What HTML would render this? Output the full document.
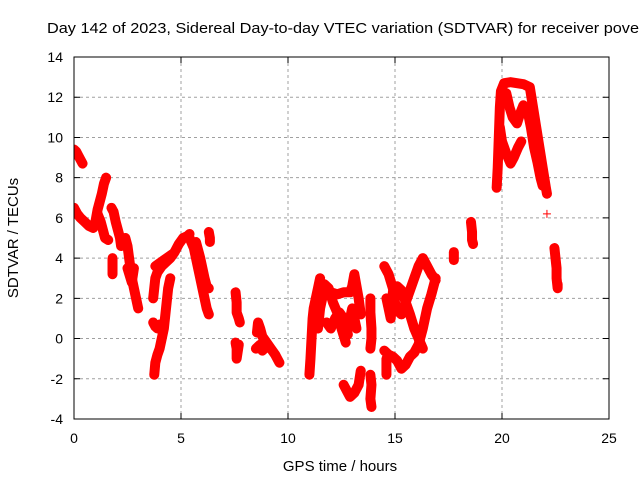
<!DOCTYPE html>
<html><head><meta charset="utf-8"><style>
body{margin:0;background:#fff;}
svg{display:block;font-family:"Liberation Sans",Arial,sans-serif;}
</style></head><body>
<svg id="chart" width="640" height="480" viewBox="0 0 640 480">
<text x="47" y="33" font-size="15" textLength="592" lengthAdjust="spacingAndGlyphs" fill="#000">Day 142 of 2023, Sidereal Day-to-day VTEC variation (SDTVAR) for receiver pove</text>
<text x="340" y="471" font-size="15" text-anchor="middle">GPS time / hours</text>
<text transform="translate(18,238) rotate(-90)" font-size="15" text-anchor="middle">SDTVAR / TECUs</text>
<g id="grid"></g><g id="ticks"></g>
<defs><clipPath id="pc"><rect x="74" y="57" width="535" height="362"/></clipPath></defs>
<g id="marks" clip-path="url(#pc)"></g>
<rect x="74" y="57" width="535" height="362" fill="none" stroke="#000" stroke-width="1"/>
</svg>
<script>
const xTicks=[0,5,10,15,20,25];
const yTicks=[-4,-2,0,2,4,6,8,10,12,14];
const trackA=[[0,9.4],[0.1,9.3],[0.2,9.1],[0.3,8.9],[0.4,8.7]];
const trackB=[[0,6.5],[0.15,6.2],[0.3,6.0],[0.5,5.8],[0.7,5.6],[0.9,5.5],[1.0,5.8],[1.1,6.4],[1.2,6.8],[1.3,7.2],[1.4,7.7],[1.5,8.0]];
const trackC=[[1.1,6.2],[1.25,5.8],[1.35,5.4],[1.45,5.0],[1.6,4.9]];
const trackD=[[1.75,6.5],[1.85,6.3],[1.95,5.8],[2.05,5.4],[2.15,5.0],[2.2,4.6]];
const trackD2=[[1.8,4.0],[1.8,3.5],[1.8,3.2]];
const trackE=[[2.4,5.0],[2.5,4.6],[2.6,3.8],[2.7,3.0],[2.8,2.5],[2.9,2.0],[3.0,1.5]];
const trackE2=[[2.5,3.5],[2.7,2.8],[2.8,3.5]];
const trackF=[[3.75,-1.8],[3.8,-1.2],[3.9,-0.8],[4.0,-0.5],[4.1,0],[4.2,0.5],[4.3,1.5],[4.4,2.5],[4.5,3.0]];
const trackG=[[3.7,0.8],[3.8,0.6],[3.9,0.5],[4.0,0.7]];
const trackH=[[3.7,2.0],[3.8,3.0],[3.9,3.3],[4.1,3.6],[4.3,3.8],[4.5,4.0],[4.7,4.3],[4.9,4.7],[5.1,5.0],[5.3,5.1],[5.4,5.2]];
const trackH2=[[3.8,3.6],[4.2,3.9],[4.6,4.2]];
const trackI=[[5.4,5.0],[5.6,4.5],[5.7,4.0],[5.8,3.5],[5.9,3.0],[6.0,2.5],[6.1,2.0],[6.2,1.5],[6.3,1.2]];
const trackI2=[[5.7,4.8],[5.9,4.0],[6.0,3.5],[6.1,3.0],[6.2,2.6],[6.3,2.5]];
const trackJ=[[6.3,5.3],[6.35,5.0],[6.35,4.8]];
const trackK=[[7.55,2.3],[7.6,1.8],[7.6,1.3],[7.7,1.0],[7.75,0.8]];
const trackK2=[[7.55,-0.2],[7.6,-0.5],[7.6,-1.0],[7.7,-0.3]];
const trackL=[[8.55,0.3],[8.6,0.8],[8.7,0.5],[8.8,0.1],[9.0,-0.2],[9.2,-0.5],[9.4,-0.8],[9.5,-1.0],[9.6,-1.2]];
const trackL2=[[8.5,-0.5],[8.7,-0.3],[8.8,-0.6],[9.0,-0.4]];
const trackM=[[11.0,-1.8],[11.05,-1.0],[11.1,0],[11.15,1.0],[11.2,1.5],[11.3,2.0],[11.4,2.5],[11.5,3.0]];
const trackM2=[[11.3,1.0],[11.4,0.5],[11.5,1.5],[11.6,2.0],[11.7,2.7],[11.9,2.5],[12.1,1.8],[12.3,1.3],[12.5,0.5],[12.7,-0.2]];
const trackN=[[11.8,0.8],[12.0,0.5],[12.2,1.0],[12.4,1.3],[12.6,1.0],[12.8,0.2]];
const trackN2=[[12.0,2.3],[12.3,2.2],[12.6,2.3],[12.9,2.3],[13.0,2.6],[13.1,3.2],[13.2,2.6],[13.3,2.0],[13.4,1.2]];
const trackN3=[[12.8,0.5],[12.9,1.0],[13.0,1.5],[13.1,1.0],[13.2,0.5]];
const trackO=[[12.6,-2.3],[12.8,-2.7],[12.9,-2.9],[13.1,-2.7],[13.3,-2.3],[13.4,-1.6]];
const trackP=[[13.85,2.0],[13.85,1.3],[13.9,0.5],[13.9,0],[13.85,-0.5]];
const trackP2=[[13.85,-1.8],[13.9,-2.3],[13.85,-3.0],[13.9,-3.4]];
const trackQ=[[14.5,3.6],[14.7,3.2],[14.9,2.5],[15.0,1.8],[15.1,1.4],[15.3,1.2],[15.5,1.8],[15.7,2.4],[15.9,3.0],[16.1,3.6],[16.3,4.0],[16.5,3.6],[16.7,3.2],[16.9,2.9]];
const trackQ2=[[14.6,2.0],[14.7,1.5],[14.8,1.0],[14.9,2.3],[15.1,2.6],[15.3,2.4],[15.5,1.8],[15.7,1.2],[15.9,0.5],[16.1,0],[16.3,-0.5]];
const trackQ3=[[14.5,-0.6],[14.7,-0.8],[14.9,-0.9],[15.1,-1.1],[15.3,-1.5],[15.5,-1.3],[15.7,-0.9],[15.9,-0.7],[16.1,-0.3],[16.3,0.5],[16.5,1.5],[16.7,2.2],[16.9,3.0]];
const trackQ4=[[14.6,-1.0],[14.6,-1.8]];
const trackR=[[17.75,4.3],[17.75,3.9]];
const trackS=[[18.55,5.8],[18.6,5.3],[18.6,4.9],[18.65,4.7]];
const trackT1=[[19.75,7.5],[19.8,8.5],[19.85,10.0],[19.9,11.5],[19.95,12.3],[20.1,12.7],[20.4,12.75],[20.7,12.7],[21.0,12.65],[21.3,12.5],[21.45,11.5],[21.6,10.5],[21.75,9.5],[21.9,8.5],[22.05,7.5],[22.1,7.2]];
const trackT2=[[20.2,12.2],[20.35,11.5],[20.5,11.0],[20.7,10.7],[20.85,11.2],[21.0,11.6],[21.2,11.3],[21.35,10.5],[21.5,9.5],[21.65,8.8],[21.8,8.0],[21.9,7.6]];
const trackT3=[[19.9,10.5],[20.0,9.8],[20.2,9.2],[20.4,8.7],[20.55,9.0],[20.75,9.5],[20.9,9.8]];
const trackV=[[22.1,6.2]];
const trackU=[[22.45,4.5],[22.5,4.0],[22.55,3.5],[22.55,3.0],[22.6,2.5],[22.6,2.7]];
const tracks=[trackA,trackB,trackC,trackD,trackD2,trackE,trackE2,trackF,trackG,trackH,trackH2,trackI,trackI2,trackJ,trackK,trackK2,trackL,trackL2,trackM,trackM2,trackN,trackN2,trackN3,trackO,trackP,trackP2,trackQ,trackQ2,trackQ3,trackQ4,trackR,trackS,trackT1,trackT2,trackT3,trackV,trackU];

const NS='http://www.w3.org/2000/svg';
const X0=74,X1=609,Y0=419,Y1=57;
function sx(v){return X0+(v-0)/(25-0)*(X1-X0);}
function sy(v){return Y0-(v+4)/(14+4)*(Y0-Y1);}
function mk(t,a){const e=document.createElementNS(NS,t);for(const k in a)e.setAttribute(k,a[k]);return e;}
const grid=document.getElementById('grid'),ticks=document.getElementById('ticks'),marks=document.getElementById('marks');
xTicks.forEach(t=>{
  const x=sx(t);
  if(t>0&&t<25){const g=mk('line',{x1:x,y1:Y1,x2:x,y2:Y0,stroke:'#a0a0a0','stroke-dasharray':'3,3','stroke-width':1});
  
  grid.appendChild(g);}
  const tk=mk('path',{d:`M${x},${Y0}v-6M${x},${Y1}v6`,stroke:'#000'});
  
  ticks.appendChild(tk);
  const l=mk('text',{x:x,y:443,'font-size':14,'text-anchor':'middle'});l.textContent=t;
  
  ticks.appendChild(l);
});
yTicks.forEach(t=>{
  const y=sy(t);
  if(t>-4&&t<14){const g=mk('line',{x1:X0,y1:y,x2:X1,y2:y,stroke:'#a0a0a0','stroke-dasharray':'3,3','stroke-width':1});
  
  grid.appendChild(g);}
  const tk=mk('path',{d:`M${X0},${y}h6M${X1},${y}h-6`,stroke:'#000'});
  
  ticks.appendChild(tk);
  const l=mk('text',{x:63,y:y+5,'font-size':14,'text-anchor':'end'});l.textContent=t;
  
  ticks.appendChild(l);
});
tracks.forEach(tr=>{
  if(tr.length>1){
    const p=mk('polyline',{points:tr.map(d=>sx(d[0])+','+sy(d[1])).join(' '),fill:'none',stroke:'#ff0000','stroke-width':10,'stroke-linejoin':'round','stroke-linecap':'round'});
    
    
    marks.appendChild(p);
  }
  tr.forEach(d=>{
    const x=sx(d[0]),y=sy(d[1]);
    const m=mk('path',{d:`M${x-4},${y}h8M${x},${y-4}v8`,stroke:'#ff0000','stroke-width':1});
    
    
    marks.appendChild(m);
  });
});
</script>
</body></html>
